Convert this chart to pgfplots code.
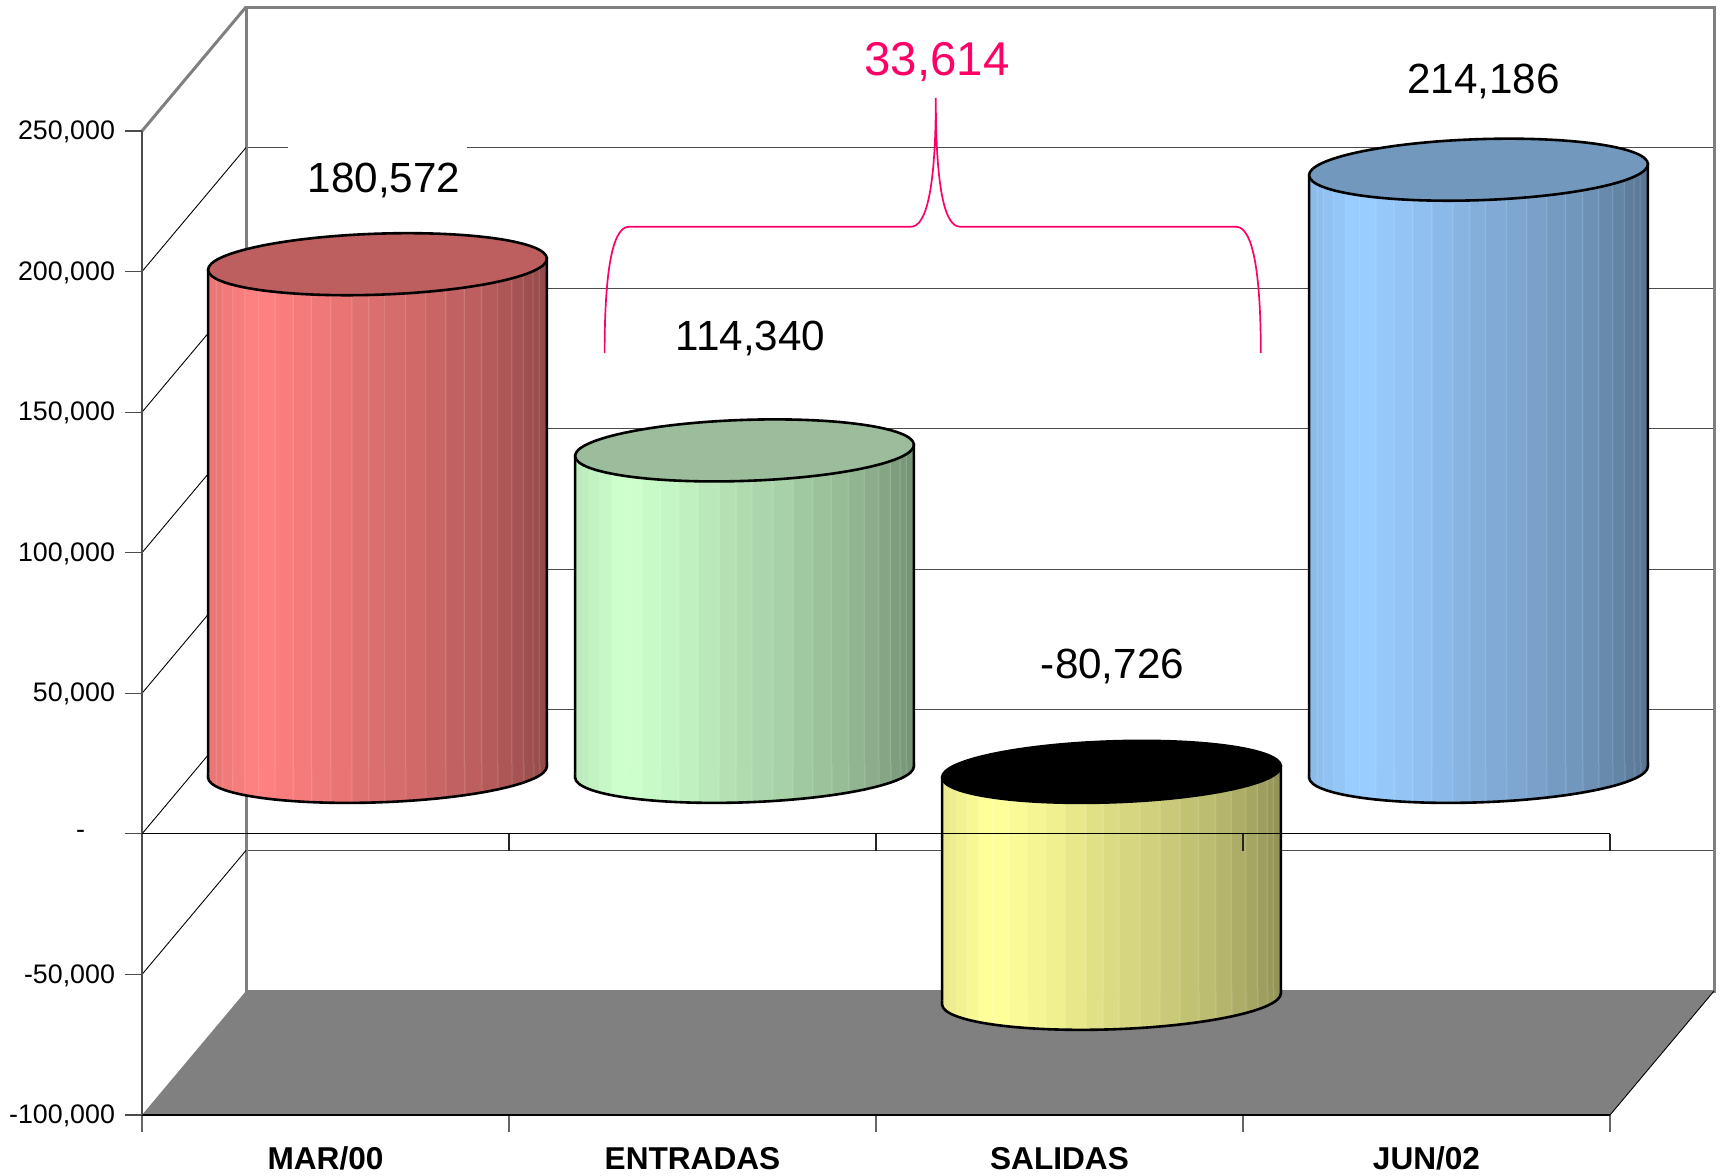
\documentclass[border=0pt]{standalone}
\usepackage{fontspec}
\setmainfont{Liberation Sans}
\usepackage{pgfplots}
\pgfplotsset{compat=1.18}

\definecolor{cred}{RGB}{255,128,128}
\definecolor{cgreen}{RGB}{204,255,204}
\definecolor{cyellow}{RGB}{255,255,153}
\definecolor{cblue}{RGB}{153,204,255}
\definecolor{capred}{RGB}{190,95,95}
\definecolor{capgreen}{RGB}{155,189,155}
\definecolor{capblue}{RGB}{114,153,189}
\definecolor{pinkish}{RGB}{255,0,102}
\definecolor{floorgray}{RGB}{128,128,128}

% banded horizontal shading for a cylinder, plus its base and cap marks
% (a shading's 25bp..75bp is what lands on the path's bounding box)
% the ellipses are tilted about 2 degrees, so they are written out as curves
\newcommand\declcyl[3]{%
  \gdef\spec{color(0bp)=(#2!92!black)}%
  \foreach \a/\b/\p in {0/2.5/92,2.5/4.3/93,4.3/7.3/95,7.3/10.9/97,10.9/15/100,15/19.8/100,
      19.8/25.2/98,25.2/30.6/96,30.6/36.3/94,36.3/42.5/91,42.5/47.5/88,47.5/52.2/86,
      52.2/58.4/84,58.4/64.3/82,64.3/70.2/79,70.2/75.7/76,75.7/80.8/74,80.8/85.5/71,
      85.5/89.7/68,89.7/93.1/65,93.1/96/62,96/97.8/60,97.8/100/58}{%
    \pgfmathsetmacro\sa{25+\a/2}%
    \pgfmathsetmacro\sb{25+\b/2-0.25}%
    \pgfmathsetmacro\sc{25+\b/2-0.1}%
    \xdef\spec{\spec;color(\sa bp)=(#2!\p!black);color(\sb bp)=(#2!\p!black);color(\sc bp)=(#2!\p!black!82!white)}%
  }%
  \xdef\spec{\spec;color(100bp)=(#2!58!black)}%
  \edef\tmp{\noexpand\pgfdeclarehorizontalshading{shade#1}{100bp}{\spec}}\tmp
  \pgfdeclareplotmark{base#1}{%
    \path[shade,shading=shade#1,draw=none] (-84.7pt,-0.87pt) -- (-84.7pt,-2.87pt)
      .. controls (-84.415pt,-11.287pt) and (-46.264pt,-16.825pt) .. (0.516pt,-15.24pt)
      .. controls (47.296pt,-13.655pt) and (84.985pt,-5.547pt) .. (84.7pt,2.87pt)
      -- (84.7pt,4.87pt) -- cycle;
    \draw[black,line width=1.3pt] (-84.7pt,-0.87pt) -- (-84.7pt,-2.87pt)
      .. controls (-84.415pt,-11.287pt) and (-46.264pt,-16.825pt) .. (0.516pt,-15.24pt)
      .. controls (47.296pt,-13.655pt) and (84.985pt,-5.547pt) .. (84.7pt,2.87pt)
      -- (84.7pt,4.87pt);
  }%
  \pgfdeclareplotmark{cap#1}{%
    \draw[fill=#3,draw=black,line width=1.3pt] (-84.7pt,-2.87pt)
      .. controls (-84.415pt,-11.287pt) and (-46.264pt,-16.825pt) .. (0.516pt,-15.24pt)
      .. controls (47.296pt,-13.655pt) and (84.985pt,-5.547pt) .. (84.7pt,2.87pt)
      .. controls (84.415pt,11.287pt) and (46.264pt,16.825pt) .. (-0.516pt,15.24pt)
      .. controls (-47.296pt,13.655pt) and (-84.985pt,5.547pt) .. cycle;
  }%
}
\declcyl{red}{cred}{capred}
\declcyl{green}{cgreen}{capgreen}
\declcyl{yellow}{cyellow}{black}
\declcyl{blue}{cblue}{capblue}

\tikzset{
  px/.style={x=.5pt,y=-.5pt,xshift=-71pt,yshift=557.5pt},
  cyl/.style 2 args={ybar,bar width=169.4pt,bar shift=0pt,draw=black,line width=1.3pt,
    shade,shading=shade#1,yslant=0.0339,yshift={-0.0339*#2*183.5pt}},
  diag/.style={black,line width=.45pt},
}
\pgfplotsset{
  chart/.style={scale only axis,width=734pt,height=492pt,xmin=0,xmax=4,
    ymin=-100000,ymax=250000,clip=false,anchor=south west,scaled y ticks=false},
}

\begin{document}
\begin{tikzpicture}
\path[use as bounding box] (-71pt,-30pt) rectangle (790pt,557.5pt);

% back wall with its grid lines
\begin{axis}[chart,at={(52pt,62pt)},
  axis line style={floorgray,line width=1.5pt},
  xtick=\empty,ytick={-50000,0,50000,100000,150000,200000},yticklabels={},
  major tick length=0pt,ymajorgrids,
  grid style={black!70,line width=.6pt}]
\end{axis}
\begin{scope}[px]
  \fill[white] (288,140) rectangle (467,200);
\end{scope}

% front axes, floor and side wall
\begin{axis}[chart,at={(0pt,0pt)},
  axis x line=bottom,axis y line=left,axis line style={-},axis on top,
  x axis line style={black,line width=.7pt},
  y axis line style={black!70,line width=.9pt},
  tick align=outside,major tick length=8.5pt,
  xtick={0,1,2,3,4},x tick label as interval,
  xticklabels={MAR/00,ENTRADAS,SALIDAS,JUN/02},
  xticklabel style={font=\fontsize{15.8pt}{18pt}\selectfont\bfseries,anchor=base,yshift=-18.6pt},
  x tick style={black!60,line width=.7pt},
  ytick={-100000,-50000,0,50000,100000,150000,200000,250000},
  yticklabels={{-100,000},{-50,000},{-\rule{15pt}{0pt}},{50,000},{100,000},{150,000},{200,000},{250,000}},
  yticklabel style={font=\fontsize{13.4pt}{15pt}\selectfont,anchor=east,xshift=-1.5pt,yshift=-.5pt},
  y tick style={black!70,line width=.6pt}]
\addplot[fill=floorgray,draw=none] coordinates {(0,-100000) (0.2834,-55894) (4.2834,-55894) (4,-100000)} -- cycle;
\addplot[diag] coordinates {(4,-100000) (4.2834,-55894)};
\addplot[floorgray,line width=1.5pt] coordinates {(0,250000) (0.2834,294106)};
\addplot[diag] coordinates {(0,200000) (0.2834,244106)};
\addplot[diag] coordinates {(0,150000) (0.2834,194106)};
\addplot[diag] coordinates {(0,100000) (0.2834,144106)};
\addplot[diag] coordinates {(0,50000) (0.2834,94106)};
\addplot[diag] coordinates {(0,0) (0.2834,44106)};
\addplot[diag] coordinates {(0,-50000) (0.2834,-5894)};
\end{axis}

% the cylinders stand halfway into the depth of the box
\begin{axis}[chart,at={(26pt,31pt)},hide axis]
\addplot[cyl={red}{0.5}] coordinates {(0.5,180572)};
\addplot[only marks,mark=basered] coordinates {(0.5,0)};
\addplot[only marks,mark=capred] coordinates {(0.5,180572)};

\addplot[cyl={green}{1.5}] coordinates {(1.5,114340)};
\addplot[only marks,mark=basegreen] coordinates {(1.5,0)};
\addplot[only marks,mark=capgreen] coordinates {(1.5,114340)};

\addplot[cyl={yellow}{2.5}] coordinates {(2.5,-80726)};
\addplot[only marks,mark=baseyellow] coordinates {(2.5,-80726)};
\addplot[only marks,mark=capyellow] coordinates {(2.5,0)};

\addplot[cyl={blue}{3.5}] coordinates {(3.5,214186)};
\addplot[only marks,mark=baseblue] coordinates {(3.5,0)};
\addplot[only marks,mark=capblue] coordinates {(3.5,214186)};
\end{axis}

% zero line and its ticks run over the cylinders
\begin{axis}[chart,at={(0pt,0pt)},hide axis]
\addplot[black,line width=.6pt] coordinates {(0,0) (4,0)};
\addplot[black!85,line width=.7pt] coordinates {(1,0) (1,-6047)};
\addplot[black!85,line width=.7pt] coordinates {(2,0) (2,-6047)};
\addplot[black!85,line width=.7pt] coordinates {(3,0) (3,-6047)};
\addplot[black!85,line width=.7pt] coordinates {(4,0) (4,-6047)};
\end{axis}

\begin{scope}[px]
  \draw[pinkish,line width=.85pt] (604.6,353) .. controls (604.6,285) and (610,226.7) .. (629,226.7)
    -- (911,226.7) .. controls (926,226.7) and (935.8,190) .. (935.8,98)
    .. controls (935.8,190) and (945,226.7) .. (960,226.7)
    -- (1236,226.7) .. controls (1255,226.7) and (1260.8,285) .. (1260.8,353);
  \tikzset{every node/.style={anchor=base,inner sep=0pt,font=\fontsize{21.1pt}{24pt}\selectfont}}
  \node at (384,193) {180,572};
  \node at (750.5,350) {114,340};
  \node at (1112.5,678.5) {-80,726};
  \node at (1483.5,93.5) {214,186};
  \node[pinkish,font=\fontsize{23.7pt}{27pt}\selectfont] at (937,75.5) {33,614};
\end{scope}
\end{tikzpicture}
\end{document}
